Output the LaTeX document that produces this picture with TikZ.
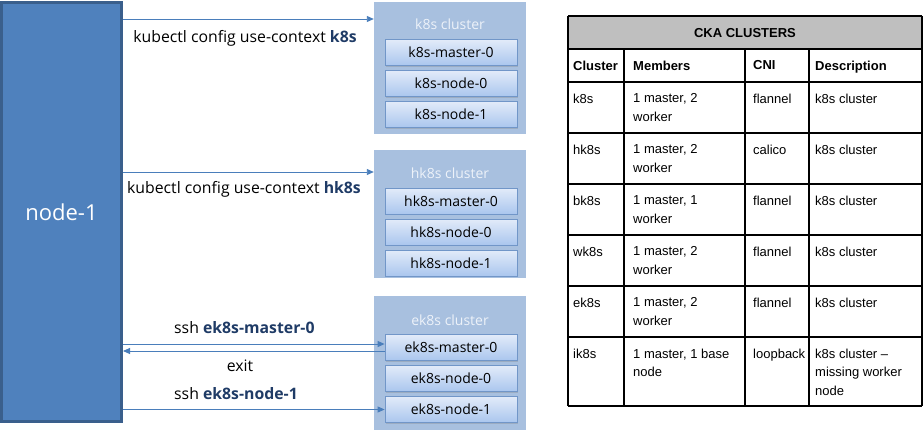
\documentclass[tikz,border=0pt]{standalone}
\usepackage{fontspec}
\setmainfont{Open Sans}
\newfontfamily\tablefont{Liberation Sans}
\usepackage{tikz}
\usetikzlibrary{shapes}
\usetikzlibrary{arrows.meta}
\usetikzlibrary{shadows}

\definecolor{hostfill}{HTML}{4F81BD}
\definecolor{hostedge}{HTML}{3A5F8C}
\definecolor{clusterfill}{HTML}{A8C0DF}
\definecolor{clustertext}{HTML}{EDF2F9}
\definecolor{memtop}{HTML}{E2EBF9}
\definecolor{membottom}{HTML}{AAC6EE}
\definecolor{memedge}{HTML}{7196C8}
\definecolor{arrowblue}{HTML}{4A7EBB}
\definecolor{cmdblue}{HTML}{1F3B66}
\definecolor{headgray}{HTML}{BFBFBF}

\begin{document}
\begin{tikzpicture}[x=1pt, y=-1pt,
  hostbox/.style={draw=hostedge, line width=3pt, fill=hostfill, text=white,
    minimum width=120pt, minimum height=419pt,
    font=\fontsize{22}{26}\selectfont},
  clusterbox/.style={fill=clusterfill, minimum width=152pt},
  clustertitle/.style={text=clustertext, inner sep=0pt,
    font=\fontsize{14}{17}\selectfont},
  memberbox/.style={draw=memedge, line width=0.8pt,
    top color=memtop, bottom color=membottom,
    minimum width=132pt, minimum height=26pt, inner sep=0pt,
    drop shadow={opacity=0.3, shadow xshift=1pt, shadow yshift=-1.2pt},
    font=\fontsize{14}{16}\selectfont},
  cmdlabel/.style={inner sep=0pt, font=\fontsize{15.8}{18}\selectfont},
  conn/.style={draw=arrowblue, line width=0.9pt,
    -{Triangle[length=7pt, width=6pt]}},
  cell/.style={anchor=north west, inner sep=0pt, align=left,
    font=\tablefont\fontsize{13}{18.5}\selectfont},
  headcell/.style={cell, font=\tablefont\bfseries\fontsize{13}{18.5}\selectfont}]

\useasboundingbox (0,0) rectangle (923,433);

% jump host
\node[hostbox] (host) at (61.5,212) {node-1};

% k8s cluster
\node[clusterbox, minimum height=132pt] (k8s) at (450,68) {};
\node[clustertitle] (k8s title) at (450,24) {k8s cluster};
\node[memberbox] (k8s m0) at (451,52.5) {k8s-master-0};
\node[memberbox] (k8s n0) at (451,83.5) {k8s-node-0};
\node[memberbox] (k8s n1) at (451,114.5) {k8s-node-1};

% hk8s cluster
\node[clusterbox, minimum height=128pt] (hk8s) at (450,214) {};
\node[clustertitle] (hk8s title) at (450,173) {hk8s cluster};
\node[memberbox] (hk8s m0) at (451,201) {hk8s-master-0};
\node[memberbox] (hk8s n0) at (451,232) {hk8s-node-0};
\node[memberbox] (hk8s n1) at (451,263) {hk8s-node-1};

% ek8s cluster
\node[clusterbox, minimum height=134pt] (ek8s) at (450,363) {};
\node[clustertitle] (ek8s title) at (450,320) {ek8s cluster};
\node[memberbox] (ek8s m0) at (451,347.5) {ek8s-master-0};
\node[memberbox] (ek8s n0) at (451,378.5) {ek8s-node-0};
\node[memberbox] (ek8s n1) at (451,409.5) {ek8s-node-1};

% commands
\draw[conn] (host.east |- 0,19) -- (k8s.west |- 0,19);
\node[cmdlabel] (k8s cmd) at (245,38)
  {kubectl config use-context \textcolor{cmdblue}{\textbf{k8s}}};

\draw[conn] (host.east |- 0,172) -- (hk8s.west |- 0,172);
\node[cmdlabel] (hk8s cmd) at (244,189)
  {kubectl config use-context \textcolor{cmdblue}{\textbf{hk8s}}};

\coordinate (ek8s in) at ([yshift=3.5pt]ek8s m0.west);
\coordinate (ek8s out) at ([yshift=-3.5pt]ek8s m0.west);
\draw[conn] (host.east |- ek8s in) -- (ek8s in);
\node[cmdlabel, anchor=west] (ssh m0) at (174,328)
  {ssh \textcolor{cmdblue}{\textbf{ek8s-master-0}}};
\draw[conn] (ek8s out) -- (host.east |- ek8s out);
\node[cmdlabel] (exit cmd) at (240,366) {exit};
\draw[conn] (host.east |- ek8s n1.west) -- (ek8s n1.west);
\node[cmdlabel, anchor=west] (ssh n1) at (174,394)
  {ssh \textcolor{cmdblue}{\textbf{ek8s-node-1}}};

% cluster table
\fill[headgray] (568,16) rectangle (922,49);
\draw[line width=1.1pt]
  (568,16) -- (922,16)  (568,49) -- (922,49)  (568,82) -- (922,82)
  (568,133) -- (922,133)  (568,184) -- (922,184)  (568,235) -- (922,235)
  (568,286) -- (922,286)  (568,337) -- (922,337)  (568,406) -- (922,406)
  (568,16) -- (568,406)  (922,16) -- (922,406)
  (624,49) -- (624,406)  (745,49) -- (745,406)  (809,49) -- (809,406);

\node[headcell, anchor=center] (tab title) at (745,33) {CKA CLUSTERS};
\node[headcell] (h name) at (573,60.7) {Cluster};
\node[headcell] (h mem) at (633,60.7) {Members};
\node[headcell] (h cni) at (753,60.7) {CNI};
\node[headcell] (h desc) at (815,60.7) {Description};

\node[cell] (k8s name) at (573,93.7) {k8s};
\node[cell] (k8s mem) at (633,93.7) {1 master, 2\\worker};
\node[cell] (k8s cni) at (753,93.7) {flannel};
\node[cell] (k8s desc) at (815,93.7) {k8s cluster};

\node[cell] (hk8s name) at (573,144.7) {hk8s};
\node[cell] (hk8s mem) at (633,144.7) {1 master, 2\\worker};
\node[cell] (hk8s cni) at (753,144.7) {calico};
\node[cell] (hk8s desc) at (815,144.7) {k8s cluster};

\node[cell] (bk8s name) at (573,195.7) {bk8s};
\node[cell] (bk8s mem) at (633,195.7) {1 master, 1\\worker};
\node[cell] (bk8s cni) at (753,195.7) {flannel};
\node[cell] (bk8s desc) at (815,195.7) {k8s cluster};

\node[cell] (wk8s name) at (573,246.7) {wk8s};
\node[cell] (wk8s mem) at (633,246.7) {1 master, 2\\worker};
\node[cell] (wk8s cni) at (753,246.7) {flannel};
\node[cell] (wk8s desc) at (815,246.7) {k8s cluster};

\node[cell] (ek8s name) at (573,297.7) {ek8s};
\node[cell] (ek8s mem) at (633,297.7) {1 master, 2\\worker};
\node[cell] (ek8s cni) at (753,297.7) {flannel};
\node[cell] (ek8s desc) at (815,297.7) {k8s cluster};

\node[cell] (ik8s name) at (573,348.7) {ik8s};
\node[cell] (ik8s mem) at (633,348.7) {1 master, 1 base\\node};
\node[cell] (ik8s cni) at (753,348.7) {loopback};
\node[cell] (ik8s desc) at (815,348.7) {k8s cluster \textendash\\missing worker\\node};
\end{tikzpicture}
\end{document}
